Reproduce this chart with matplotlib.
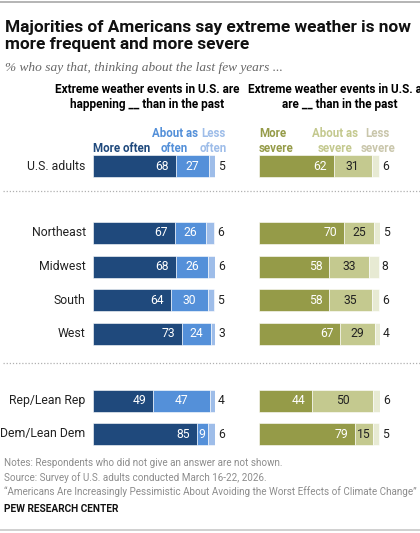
import matplotlib.pyplot as plt
from matplotlib.lines import Line2D

# --- data ---
groups = ["U.S. adults", "Northeast", "Midwest", "South", "West",
          "Rep/Lean Rep", "Dem/Lean Dem"]
rows = [0, 2, 3, 4, 5, 7, 8]

more_often = [68, 67, 68, 64, 73, 49, 85]
same_often = [27, 26, 26, 30, 24, 47, 9]
less_often = [5, 6, 6, 5, 3, 4, 6]

more_severe = [62, 70, 58, 58, 67, 44, 79]
same_severe = [31, 25, 33, 35, 29, 50, 15]
less_severe = [6, 5, 8, 6, 4, 6, 5]

W, H = 420, 533
FONT = "Roboto"


def fx(px):
    return px / W


def fy(py):
    return 1 - py / H


fig = plt.figure(figsize=(W / 100, H / 100), dpi=100)
fig.patch.set_facecolor("white")

# rules
fig.add_artist(Line2D([0, 1], [fy(2), fy(2)], color="#a8a8a8", lw=1.2))
fig.add_artist(Line2D([0, 1], [fy(530), fy(530)], color="#c8c8c8", lw=1.2))
for yy in (191, 363):
    fig.add_artist(Line2D([fx(3), 1], [fy(yy), fy(yy)], color="#b0b0b0",
                          lw=0.9, ls=(0, (1, 1.5))))

# title / subtitle
fig.text(fx(5), fy(36), "Majorities of Americans say extreme weather is now\nmore frequent and more severe",
         fontsize=12.4, fontweight="bold", family=FONT, va="center", ha="left",
         linespacing=1.12, color="#111111")
fig.text(fx(5), fy(68), "% who say that, thinking about the last few years ...",
         fontsize=9.6, style="italic", family="Liberation Serif", color="#666666",
         va="center", ha="left")

# column headers (the right one runs off the edge, as in the original)
fig.text(fx(147), fy(97), "Extreme weather events in U.S. are\nhappening __ than in the past",
         fontsize=8.5, fontweight="bold", family=FONT, ha="center", va="center",
         linespacing=1.15)
fig.text(fx(340), fy(97), "Extreme weather events in U.S. are\nare __ than in the past",
         fontsize=8.5, fontweight="bold", family=FONT, ha="center", va="center",
         linespacing=1.15)

# bar height in row units (22 px over 33.5 px per row)
bh = 22 / 33.5
ylim = ((450 - 166) / 33.5, (150 - 166) / 33.5)


def panel(x0, x1, a, b, c, cols, mid_txt, legend):
    ax = fig.add_axes([fx(x0), fy(450), fx(x1) - fx(x0), 300 / H])
    ax.set_xlim(0, 100)
    ax.set_ylim(*ylim)
    ax.axis("off")
    ax.barh(rows, a, height=bh, color=cols[0], edgecolor="white", linewidth=0.4)
    ax.barh(rows, b, left=a, height=bh, color=cols[1], edgecolor="white", linewidth=0.4)
    left2 = [p + q for p, q in zip(a, b)]
    ax.barh(rows, c, left=left2, height=bh, color=cols[2], edgecolor="white", linewidth=0.4)
    for r, p, q, s, l2 in zip(rows, a, b, c, left2):
        ax.text(p - 5.5, r, str(p), ha="right", va="center", color="white",
                fontsize=8.7, family=FONT)
        ax.text(p + q / 2, r, str(q), ha="center", va="center", color=mid_txt,
                fontsize=8.7, family=FONT)
        ax.text(l2 + s + 2.5, r, str(s), ha="left", va="center", color="#222222",
                fontsize=8.7, family=FONT)
    for txt, xpos, ha, col in legend:
        ax.text(xpos, -0.33, txt, ha=ha, va="bottom", color=col, fontsize=8.3,
                fontweight="bold", family=FONT, multialignment=ha,
                linespacing=1.2)
    return ax


blues = ["#1f497c", "#5490d9", "#9ebde9"]
olives = ["#959b48", "#c4c98f", "#e7ead3"]

axl = panel(93, 215, more_often, same_often, less_often, blues, "white",
            [("More often", 0, "left", "#1f497c"),
             ("About as\noften", 67, "center", "#5490d9"),
             ("Less\noften", 98.5, "center", "#9ebde9")])
panel(259, 380, more_severe, same_severe, less_severe, olives, "#222222",
      [("More\nsevere", 0, "left", "#959b48"),
       ("About as\nsevere", 62.5, "center", "#c4c98f"),
       ("Less\nsevere", 98, "center", "#c9c6ab")])

# group labels
for r, g in zip(rows, groups):
    axl.text(-6, r, g, ha="right", va="center", fontsize=8.8, family=FONT,
             color="#222222")

# notes
notes = ["Notes: Respondents who did not give an answer are not shown.",
         "Source: Survey of U.S. adults conducted March 16-22, 2026.",
         "\u201cAmericans Are Increasingly Pessimistic About Avoiding the Worst Effects of Climate Change\u201d"]
for i, n in enumerate(notes):
    fig.text(fx(4), fy(463.5 + 14 * i), n, fontsize=7.1, family=FONT,
             color="#8c8c8c", va="center", ha="left")
fig.text(fx(4), fy(508.5), "PEW RESEARCH CENTER", fontsize=7.3, fontweight="bold",
         family=FONT, color="#111111", va="center", ha="left")

fig.savefig("out.png", dpi=100)
